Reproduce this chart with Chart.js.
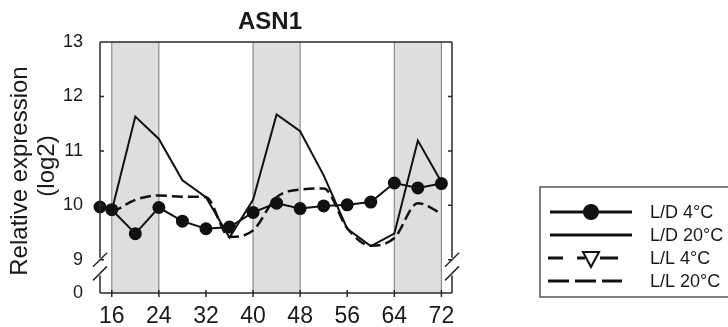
<!DOCTYPE html>
<html>
<head>
<meta charset="utf-8">
<script src="https://cdn.jsdelivr.net/npm/chart.js@4.4.1/dist/chart.umd.min.js"></script>
<style>
  html, body { margin: 0; padding: 0; background: #fff; }
  canvas { display: block; }
</style>
</head>
<body>
<canvas id="grafico" width="728" height="327"></canvas>
<script>
// horas (ZT) e valores log2
const horas = [14, 16, 20, 24, 28, 32, 36, 40, 44, 48, 52, 56, 60, 64, 68, 72];
const ld4 = [9.97, 9.92, 9.48, 9.96, 9.71, 9.57, 9.60, 9.87, 10.04, 9.94, 9.99, 10.01, 10.06, 10.41, 10.32, 10.40];
const ld20 = [null, 9.90, 11.63, 11.22, 10.46, 10.15, 9.41, 10.10, 11.67, 11.36, 10.55, 9.57, 9.25, 9.48, 11.19, 10.43];
const ll4 = [];
const ll20 = [null, 9.86, 10.10, 10.18, 10.16, 10.15, 9.42, 9.54, 10.15, 10.29, 10.31, 9.58, 9.26, 9.40, 10.04, 9.85];

const xTicks = [16, 24, 32, 40, 48, 56, 64, 72];
const yTicks = [9, 10, 11, 12, 13];
const escuroInicio = [16, 40, 64];
const escuroFim = [24, 48, 72];

// eixo quebrado: o "0" fica logo abaixo do 9
const posZero = 8.39;

const pontos = arr => horas.map((h, i) => ({ x: h, y: arr[i] === undefined ? null : arr[i] }));

const fonte = "'Liberation Sans', Arial, sans-serif";
const corTexto = "#1a1a1a";

const fundoPlugin = {
    id: "fundo",
    beforeDatasetsDraw(chart) {
        const { ctx, chartArea: a, scales: { x } } = chart;
        ctx.save();
        for (let i = 0; i < escuroInicio.length; i++) {
            const x0 = x.getPixelForValue(escuroInicio[i]);
            const x1 = x.getPixelForValue(escuroFim[i]);
            ctx.fillStyle = "#dedede";
            ctx.fillRect(x0, a.top, x1 - x0, a.bottom - a.top);
            ctx.strokeStyle = "#8e8e8e";
            ctx.lineWidth = 1.2;
            [x0, x1].forEach(px => {
                ctx.beginPath();
                ctx.moveTo(px, a.top);
                ctx.lineTo(px, a.bottom);
                ctx.stroke();
            });
        }
        ctx.restore();
    }
};

const molduraPlugin = {
    id: "moldura",
    afterDatasetsDraw(chart) {
        const { ctx, chartArea: a, scales: { x, y } } = chart;
        const q1 = y.getPixelForValue(9);
        const q2 = y.getPixelForValue(8.75);
        ctx.save();
        ctx.strokeStyle = "#2a2a2a";
        ctx.lineWidth = 1.5;
        ctx.beginPath();
        // topo e base
        ctx.moveTo(a.left, a.top); ctx.lineTo(a.right, a.top);
        ctx.moveTo(a.left, a.bottom); ctx.lineTo(a.right, a.bottom);
        // laterais com quebra
        [a.left, a.right].forEach(px => {
            ctx.moveTo(px, a.top); ctx.lineTo(px, q1 - 2);
            ctx.moveTo(px, q2 + 2); ctx.lineTo(px, a.bottom);
            ctx.moveTo(px - 7, q1 + 7); ctx.lineTo(px + 7, q1 - 7);
            ctx.moveTo(px - 7, q2 + 7); ctx.lineTo(px + 7, q2 - 7);
        });
        // ticks
        yTicks.forEach(v => {
            const py = y.getPixelForValue(v);
            ctx.moveTo(a.left, py); ctx.lineTo(a.left + 4, py);
            ctx.moveTo(a.right, py); ctx.lineTo(a.right - 4, py);
        });
        xTicks.forEach(v => {
            const px = x.getPixelForValue(v);
            ctx.moveTo(px, a.bottom - 3); ctx.lineTo(px, a.bottom + 4);
        });
        ctx.stroke();
        ctx.restore();
    },
    afterDraw(chart) {
        const ctx = chart.ctx;
        ctx.save();
        ctx.fillStyle = corTexto;
        ctx.textAlign = "center";
        ctx.textBaseline = "middle";
        ctx.font = "bold 24px " + fonte;
        ctx.fillText("ASN1", 270, 22);

        ctx.font = "24px " + fonte;
        ctx.translate(20, 171);
        ctx.rotate(-Math.PI / 2);
        ctx.fillText("Relative expression", 0, 0);
        ctx.restore();
        ctx.save();
        ctx.fillStyle = corTexto;
        ctx.textAlign = "center";
        ctx.textBaseline = "middle";
        ctx.font = "24px " + fonte;
        ctx.translate(47, 166);
        ctx.rotate(-Math.PI / 2);
        ctx.fillText("(log2)", 0, 0);
        ctx.restore();
    }
};

const legendaPlugin = {
    id: "legenda",
    afterDraw(chart) {
        const ctx = chart.ctx;
        const linhasY = [212, 235, 258, 281];
        const x0 = 550, x1 = 632, xm = 591;
        ctx.save();
        ctx.strokeStyle = "#555";
        ctx.lineWidth = 1.5;
        ctx.strokeRect(540, 187, 210, 110);

        chart.data.datasets.forEach((ds, i) => {
            const ly = linhasY[i];
            ctx.strokeStyle = "#111";
            ctx.lineWidth = 3;
            ctx.beginPath();
            if (ds.pointStyle === "triangle") {
                [[548, 563], [577, 585], [600, 618]].forEach(s => {
                    ctx.moveTo(s[0], ly); ctx.lineTo(s[1], ly);
                });
            } else if (ds.borderDash) {
                [[548, 569], [575, 596], [602, 622]].forEach(s => {
                    ctx.moveTo(s[0], ly); ctx.lineTo(s[1], ly);
                });
            } else {
                ctx.moveTo(x0, ly); ctx.lineTo(x1, ly);
            }
            ctx.stroke();
            if (ds.pointStyle === "circle" && ds.pointRadius > 0) {
                ctx.fillStyle = "#111";
                ctx.beginPath();
                ctx.arc(xm, ly, 8, 0, Math.PI * 2);
                ctx.fill();
            }
            if (ds.pointStyle === "triangle") {
                ctx.fillStyle = "#fff";
                ctx.lineWidth = 2;
                ctx.beginPath();
                ctx.moveTo(xm - 8, ly - 6);
                ctx.lineTo(xm + 8, ly - 6);
                ctx.lineTo(xm, ly + 9);
                ctx.closePath();
                ctx.fill();
                ctx.stroke();
            }
            ctx.fillStyle = corTexto;
            ctx.font = "18px " + fonte;
            ctx.textAlign = "left";
            ctx.textBaseline = "middle";
            ctx.fillText(ds.label, 650, ly + 1);
        });
        ctx.restore();
    }
};

new Chart(document.getElementById("grafico"), {
    type: "line",
    data: {
        datasets: [
            {
                label: "L/D 4°C",
                data: pontos(ld4),
                borderColor: "#111",
                borderWidth: 2,
                pointStyle: "circle",
                pointRadius: 5.5,
                pointBackgroundColor: "#111",
                pointBorderColor: "#111",
                clip: false
            },
            {
                label: "L/D 20°C",
                data: pontos(ld20),
                borderColor: "#111",
                borderWidth: 2,
                pointRadius: 0
            },
            {
                label: "L/L 4°C",
                data: pontos(ll4),
                borderColor: "#111",
                borderWidth: 2.5,
                borderDash: [11, 5],
                pointStyle: "triangle",
                rotation: 180,
                pointRadius: 5,
                pointBackgroundColor: "#fff"
            },
            {
                label: "L/L 20°C",
                data: pontos(ll20),
                borderColor: "#111",
                borderWidth: 2.5,
                borderDash: [11, 5],
                cubicInterpolationMode: "monotone",
                pointRadius: 0
            }
        ]
    },
    options: {
        responsive: false,
        animation: false,
        devicePixelRatio: 1,
        layout: { padding: { top: 42, right: 276, left: 0, bottom: 0 } },
        plugins: {
            legend: { display: false },
            tooltip: { enabled: false }
        },
        scales: {
            x: {
                type: "linear",
                min: 14,
                max: 73.8,
                afterBuildTicks: s => { s.ticks = xTicks.map(v => ({ value: v })); },
                afterFit: s => { s.height = 34; },
                grid: { display: false },
                border: { display: false },
                ticks: {
                    color: corTexto,
                    font: { family: fonte, size: 23 },
                    padding: 2,
                    maxRotation: 0,
                    autoSkip: false
                }
            },
            y: {
                min: posZero,
                max: 13,
                afterBuildTicks: s => { s.ticks = [{ value: posZero }].concat(yTicks.map(v => ({ value: v }))); },
                afterFit: s => { s.width = 100; },
                grid: { display: false },
                border: { display: false },
                ticks: {
                    color: corTexto,
                    font: { family: fonte, size: 18 },
                    padding: 9,
                    callback: v => (v === posZero ? "0" : v)
                }
            }
        }
    },
    plugins: [fundoPlugin, molduraPlugin, legendaPlugin]
});
</script>
</body>
</html>
